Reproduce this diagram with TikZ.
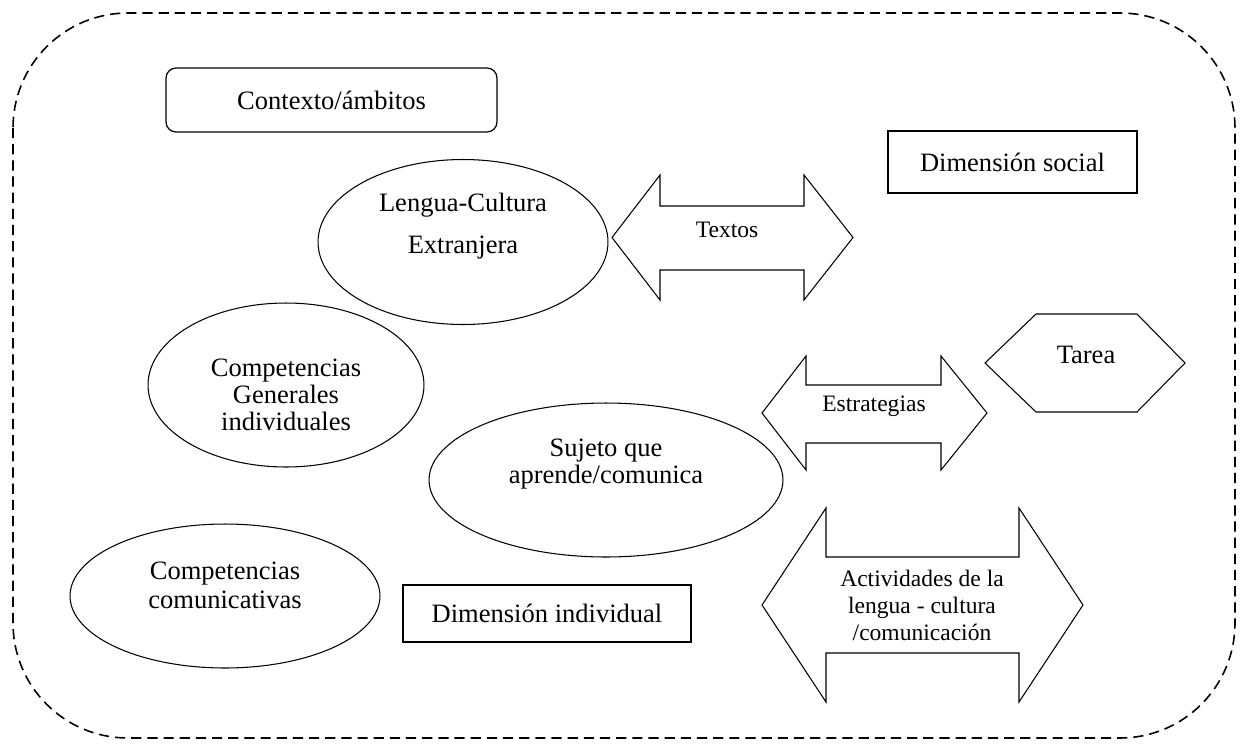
\documentclass[tikz,border=0pt]{standalone}
\usepackage{fontspec}
\setmainfont{Liberation Serif}
\usetikzlibrary{positioning, calc, shapes.geometric}

\begin{document}
\begin{tikzpicture}[
    x=0.02cm, y=-0.02cm,
    % Global Styles
    frame/.style={
        draw=black,
        line width=0.9pt,
        dash pattern=on 5.8pt off 3.4pt,
        rounded corners=2.3cm
    },
    block/.style={
        rectangle,
        draw=black,
        line width=0.7pt,
        align=center,
        font=\fontsize{15.1}{15.5}\selectfont
    },
    oval/.style={
        ellipse,
        draw=black,
        line width=0.6pt,
        inner sep=0pt
    },
    shape_line/.style={
        draw=black,
        line width=0.6pt,
        line join=miter
    },
    label_text/.style={
        align=center,
        inner sep=1pt,
        font=\fontsize{15.1}{15.5}\selectfont
    },
    small_text/.style={
        label_text,
        font=\fontsize{13.4}{15.4}\selectfont
    }
]
    \useasboundingbox (0,0) rectangle (1248,751);

    % --- Outer frame ---
    \draw[frame] (13,13) rectangle (1235,738);

    % --- Boxes ---
    \node[block, rounded corners=0.2cm, minimum width=6.62cm, minimum height=1.28cm] (contexto) at (331.5,100) {Contexto/ámbitos};
    \node[block, minimum width=4.98cm, minimum height=1.24cm] (social) at (1012.5,162) {Dimensión social};
    \node[block, minimum width=5.76cm, minimum height=1.14cm] (individual) at (547,613.5) {Dimensión individual};

    % --- Ellipses ---
    \node[oval, minimum width=5.8cm, minimum height=3.3cm] (lengua) at (463,242) {};
    \node[label_text, font=\fontsize{15.1}{23.8}\selectfont] (lengua_txt) at (463,226) {Lengua-Cultura\\Extranjera};

    \node[oval, minimum width=5.52cm, minimum height=3.28cm] (generales) at (286,385) {};
    \node[label_text] (generales_txt) at (286,395) {Competencias\\Generales\\individuales};

    \node[oval, minimum width=7.08cm, minimum height=3.08cm] (sujeto) at (606,480) {};
    \node[label_text] (sujeto_txt) at (606,464) {Sujeto que\\aprende/comunica};

    \node[oval, minimum width=6.2cm, minimum height=2.88cm] (comunicativas) at (225,596) {};
    \node[label_text, font=\fontsize{15.1}{16.5}\selectfont] (comunicativas_txt) at (225,585) {Competencias\\comunicativas};

    % --- Double arrows ---
    % Textos
    \draw[shape_line] (612,237.5) -- (660,175) -- (660,206) -- (804,206) -- (804,175) -- (853,237.5)
        -- (804,300) -- (804,270) -- (660,270) -- (660,300) -- cycle;
    \node[small_text] (textos) at (727,230) {Textos};

    % Estrategias
    \draw[shape_line] (762,413) -- (806,356) -- (806,385) -- (941,385) -- (941,356) -- (987,413)
        -- (941,470) -- (941,443) -- (806,443) -- (806,470) -- cycle;
    \node[small_text] (estrategias) at (874,406) {Estrategias};

    % Actividades
    \draw[shape_line] (762,605) -- (826,508) -- (826,557) -- (1019,557) -- (1019,508) -- (1083,605)
        -- (1019,702) -- (1019,653) -- (826,653) -- (826,702) -- cycle;
    \node[small_text] (actividades) at (922,605) {Actividades de la\\lengua - cultura\\/comunicación};

    % --- Hexagon ---
    \draw[shape_line] (985,363) -- (1036,314) -- (1137,314) -- (1185,363) -- (1137,412) -- (1036,412) -- cycle;
    \node[label_text] (tarea) at (1086,355) {Tarea};

\end{tikzpicture}
\end{document}
